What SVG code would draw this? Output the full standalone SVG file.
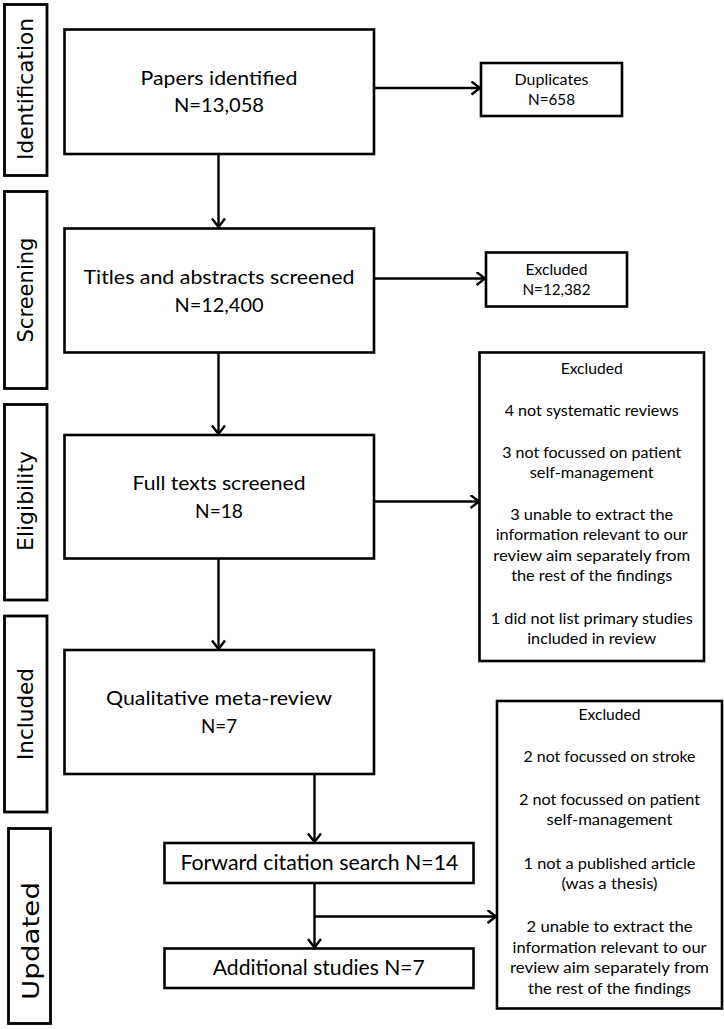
<svg xmlns="http://www.w3.org/2000/svg" width="724" height="1029" viewBox="0 0 724 1029">
<style>
.bx{fill:#fff;stroke:#000;stroke-width:2.6}
.lb{fill:#fff;stroke:#000;stroke-width:2.8}
.cn{fill:none;stroke:#000;stroke-width:2.4}
.lt{font-family:"DejaVu Sans","Open Sans",sans-serif;font-size:20.5px;fill:#000;text-anchor:middle}
.mt{font-family:Lato,"Open Sans",sans-serif;font-size:19px;fill:#000;text-anchor:middle}
.st{font-family:Lato,"Open Sans",sans-serif;font-size:15.5px;fill:#000;text-anchor:middle}
</style>
<defs>
<marker id="ah" markerUnits="userSpaceOnUse" markerWidth="14" markerHeight="16" refX="10" refY="7" orient="auto" viewBox="0 0 14 16">
<path d="M1.5,0.5 L10,7 L1.5,13.5" fill="none" stroke="#000" stroke-width="2.4"/>
</marker>
</defs>

<g id="label-identification">
<rect class="lb" x="4.5" y="4.5" width="42.5" height="171"/>
<text class="lt" transform="translate(33,89) rotate(-90)" textLength="142" lengthAdjust="spacingAndGlyphs">Identification</text>
</g>
<g id="label-screening">
<rect class="lb" x="4.5" y="191.5" width="42.5" height="197"/>
<text class="lt" transform="translate(33,290) rotate(-90)" textLength="105" lengthAdjust="spacingAndGlyphs">Screening</text>
</g>
<g id="label-eligibility">
<rect class="lb" x="4.5" y="404.5" width="42.5" height="195.5"/>
<text class="lt" transform="translate(33,501) rotate(-90)" textLength="100" lengthAdjust="spacingAndGlyphs">Eligibility</text>
</g>
<g id="label-included">
<rect class="lb" x="4.5" y="616" width="42.5" height="196"/>
<text class="lt" transform="translate(33,714) rotate(-90)" textLength="92" lengthAdjust="spacingAndGlyphs">Included</text>
</g>
<g id="label-updated">
<rect class="lb" x="8.5" y="828.5" width="42" height="195"/>
<text class="lt" style="font-size:23px" transform="translate(38.5,941) rotate(-90)" textLength="118" lengthAdjust="spacingAndGlyphs">Updated</text>
</g>

<g id="connectors">
<line class="cn" x1="218.5" y1="154" x2="218.5" y2="227" marker-end="url(#ah)"/>
<line class="cn" x1="218.5" y1="352.5" x2="218.5" y2="434" marker-end="url(#ah)"/>
<line class="cn" x1="218.5" y1="558.5" x2="218.5" y2="649" marker-end="url(#ah)"/>
<line class="cn" x1="372" y1="88" x2="480" y2="88" marker-end="url(#ah)"/>
<line class="cn" x1="372" y1="278.5" x2="485" y2="278.5" marker-end="url(#ah)"/>
<line class="cn" x1="370" y1="501.5" x2="479" y2="501.5" marker-end="url(#ah)"/>
<line class="cn" x1="314.5" y1="774" x2="314.5" y2="842" marker-end="url(#ah)"/>
<line class="cn" x1="314.5" y1="882.5" x2="314.5" y2="947.5" marker-end="url(#ah)"/>
<line class="cn" x1="314.5" y1="916.5" x2="496" y2="916.5" marker-end="url(#ah)"/>
</g>

<g id="papers-identified">
<rect class="bx" x="64.5" y="29.5" width="309.5" height="124.5"/>
<text class="mt" x="219" y="85" textLength="157" lengthAdjust="spacingAndGlyphs">Papers identified</text>
<text class="mt" x="219" y="112" textLength="90" lengthAdjust="spacingAndGlyphs">N=13,058</text>
</g>
<g id="duplicates">
<rect class="bx" x="481" y="63" width="141" height="53"/>
<text class="st" x="551.5" y="85" textLength="74" lengthAdjust="spacingAndGlyphs">Duplicates</text>
<text class="st" x="551.5" y="105" textLength="47" lengthAdjust="spacingAndGlyphs">N=658</text>
</g>
<g id="titles-abstracts">
<rect class="bx" x="64.5" y="228.5" width="309.5" height="124"/>
<text class="mt" x="219" y="283.5" textLength="271" lengthAdjust="spacingAndGlyphs">Titles and abstracts screened</text>
<text class="mt" x="219" y="311.5" textLength="89" lengthAdjust="spacingAndGlyphs">N=12,400</text>
</g>
<g id="excluded-screening">
<rect class="bx" x="486" y="252.5" width="141" height="54"/>
<text class="st" x="556.5" y="274.5" textLength="62" lengthAdjust="spacingAndGlyphs">Excluded</text>
<text class="st" x="556.5" y="295" textLength="68" lengthAdjust="spacingAndGlyphs">N=12,382</text>
</g>
<g id="full-texts">
<rect class="bx" x="64.5" y="435" width="309.5" height="123.5"/>
<text class="mt" x="219" y="490" textLength="173" lengthAdjust="spacingAndGlyphs">Full texts screened</text>
<text class="mt" x="219" y="517.5" textLength="48" lengthAdjust="spacingAndGlyphs">N=18</text>
</g>
<g id="excluded-eligibility">
<rect class="bx" x="479.5" y="352.5" width="224.5" height="308.5"/>
<text class="st" x="591.7" y="373.5" textLength="62" lengthAdjust="spacingAndGlyphs">Excluded</text>
<text class="st" x="591.7" y="415.5" textLength="174" lengthAdjust="spacingAndGlyphs">4 not systematic reviews</text>
<text class="st" x="591.7" y="457.5" textLength="179" lengthAdjust="spacingAndGlyphs">3 not focussed on patient</text>
<text class="st" x="591.7" y="477.5" textLength="124" lengthAdjust="spacingAndGlyphs">self-management</text>
<text class="st" x="591.7" y="520" textLength="163" lengthAdjust="spacingAndGlyphs">3 unable to extract  the</text>
<text class="st" x="591.7" y="540" textLength="192" lengthAdjust="spacingAndGlyphs">information relevant to our</text>
<text class="st" x="591.7" y="560.5" textLength="197" lengthAdjust="spacingAndGlyphs">review aim separately  from</text>
<text class="st" x="591.7" y="580.5" textLength="161" lengthAdjust="spacingAndGlyphs">the rest of the findings</text>
<text class="st" x="591.7" y="623.5" textLength="202" lengthAdjust="spacingAndGlyphs">1 did not list primary studies</text>
<text class="st" x="591.7" y="643.5" textLength="129" lengthAdjust="spacingAndGlyphs">included in review</text>
</g>
<g id="meta-review">
<rect class="bx" x="64.5" y="650" width="309.5" height="124"/>
<text class="mt" x="219" y="705" textLength="226" lengthAdjust="spacingAndGlyphs">Qualitative meta-review</text>
<text class="mt" x="219" y="733" textLength="36" lengthAdjust="spacingAndGlyphs">N=7</text>
</g>
<g id="forward-citation">
<rect class="bx" x="164.5" y="843" width="309" height="40"/>
<text class="mt" style="font-size:21px" x="319.4" y="870" textLength="278" lengthAdjust="spacingAndGlyphs">Forward citation search N=14</text>
</g>
<g id="additional-studies">
<rect class="bx" x="164.5" y="948.5" width="309" height="39.5"/>
<text class="mt" style="font-size:21px" x="318.8" y="975" textLength="212" lengthAdjust="spacingAndGlyphs">Additional studies N=7</text>
</g>
<g id="excluded-updated">
<rect class="bx" x="497" y="701" width="225" height="307.5"/>
<text class="st" x="609.5" y="720" textLength="62" lengthAdjust="spacingAndGlyphs">Excluded</text>
<text class="st" x="609.5" y="762" textLength="172" lengthAdjust="spacingAndGlyphs">2 not focussed on stroke</text>
<text class="st" x="609.5" y="805" textLength="181" lengthAdjust="spacingAndGlyphs">2 not focussed on patient</text>
<text class="st" x="609.5" y="825" textLength="126" lengthAdjust="spacingAndGlyphs">self-management</text>
<text class="st" x="609.5" y="868.5" textLength="172" lengthAdjust="spacingAndGlyphs">1 not a published article</text>
<text class="st" x="609.5" y="888.5" textLength="96" lengthAdjust="spacingAndGlyphs">(was a thesis)</text>
<text class="st" x="609.5" y="932" textLength="166" lengthAdjust="spacingAndGlyphs">2 unable to extract  the</text>
<text class="st" x="609.5" y="952.5" textLength="194" lengthAdjust="spacingAndGlyphs">information relevant to our</text>
<text class="st" x="609.5" y="973" textLength="199" lengthAdjust="spacingAndGlyphs">review aim separately  from</text>
<text class="st" x="609.5" y="993.5" textLength="163" lengthAdjust="spacingAndGlyphs">the rest of the findings</text>
</g>
</svg>
